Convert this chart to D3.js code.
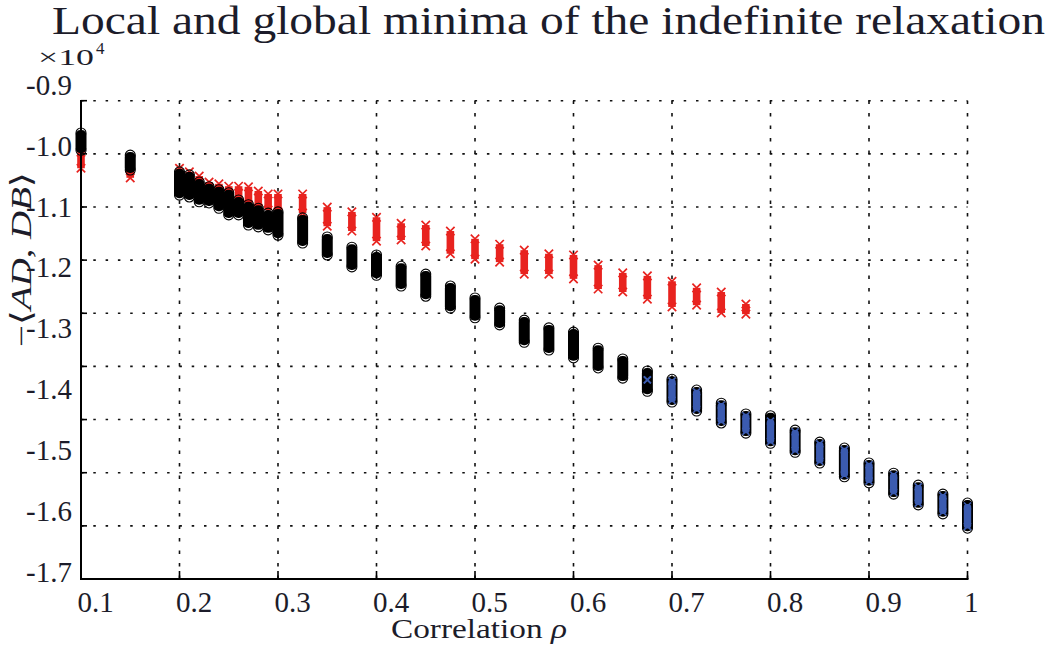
<!DOCTYPE html>
<html><head><meta charset="utf-8">
<script src="https://cdn.jsdelivr.net/npm/d3@7/dist/d3.min.js"></script>
<style>body{margin:0;background:#fff}svg{display:block}</style>
</head><body><svg id="c" width="1050" height="645"></svg>
<script>
// correlation values (x positions of the columns)
const rho = [0.1,0.15,0.2,0.21,0.22,0.23,0.24,0.25,0.26,0.27,0.28,0.29,0.3,0.325,0.35,0.375,0.4,0.425,0.45,0.475,0.5,0.525,0.55,0.575,0.6,0.625,0.65,0.675,0.7,0.725,0.75,0.775,0.8,0.825,0.85,0.875,0.9,0.925,0.95,0.975,1.0];
// black circles: extent of the cloud (x10^4)
const blackTop = [-0.954,-0.991,-1.019,-1.024,-1.036,-1.044,-1.049,-1.054,-1.066,-1.074,-1.080,-1.088,-1.086,-1.096,-1.128,-1.145,-1.158,-1.177,-1.190,-1.210,-1.230,-1.247,-1.267,-1.280,-1.287,-1.314,-1.332,-1.352,-1.366,-1.384,-1.406,-1.424,-1.427,-1.451,-1.471,-1.481,-1.506,-1.523,-1.543,-1.558,-1.573];
const blackBottom = [-0.983,-1.016,-1.058,-1.061,-1.069,-1.071,-1.080,-1.091,-1.091,-1.108,-1.111,-1.116,-1.125,-1.138,-1.158,-1.178,-1.192,-1.210,-1.227,-1.247,-1.263,-1.275,-1.304,-1.317,-1.330,-1.347,-1.364,-1.386,-1.404,-1.419,-1.439,-1.456,-1.473,-1.488,-1.506,-1.529,-1.539,-1.558,-1.576,-1.591,-1.615];
// red crosses (rho 0.1 .. 0.775)
const redRho = [0.1,0.15,0.2,0.21,0.22,0.23,0.24,0.25,0.26,0.27,0.28,0.29,0.3,0.325,0.35,0.375,0.4,0.425,0.45,0.475,0.5,0.525,0.55,0.575,0.6,0.625,0.65,0.675,0.7,0.725,0.75,0.775];
const redTop = [-0.986,-1.014,-1.013,-1.019,-1.026,-1.036,-1.039,-1.043,-1.043,-1.044,-1.051,-1.056,-1.056,-1.056,-1.078,-1.086,-1.095,-1.105,-1.108,-1.118,-1.131,-1.140,-1.150,-1.156,-1.158,-1.175,-1.188,-1.193,-1.202,-1.213,-1.220,-1.240];
const redBottom = [-1.013,-1.029,-1.041,-1.046,-1.049,-1.058,-1.063,-1.066,-1.071,-1.074,-1.080,-1.083,-1.086,-1.088,-1.110,-1.118,-1.135,-1.133,-1.143,-1.156,-1.165,-1.170,-1.190,-1.190,-1.198,-1.215,-1.220,-1.232,-1.245,-1.242,-1.255,-1.257];
// blue crosses (rho 0.675 .. 1)
const blueRho = [0.675,0.7,0.725,0.75,0.775,0.8,0.825,0.85,0.875,0.9,0.925,0.95,0.975,1.0];
const blueTop = [-1.367,-1.369,-1.387,-1.409,-1.427,-1.436,-1.454,-1.474,-1.484,-1.509,-1.526,-1.546,-1.561,-1.578];
const blueBottom = [-1.367,-1.401,-1.416,-1.436,-1.453,-1.470,-1.485,-1.503,-1.526,-1.536,-1.555,-1.573,-1.588,-1.612];
// axis ticks
const xTicks = [0.1,0.2,0.3,0.4,0.5,0.6,0.7,0.8,0.9,1];
const xTickLabels = ["0.1","0.2","0.3","0.4","0.5","0.6","0.7","0.8","0.9","1"];
const yTicks = [-0.9,-1.0,-1.1,-1.2,-1.3,-1.4,-1.5,-1.6,-1.7];
const yTickLabels = ["-0.9","-1.0","-1.1","-1.2","-1.3","-1.4","-1.5","-1.6","-1.7"];

const svg = d3.select("#c");
const FONT = "'Liberation Serif','DejaVu Serif',serif";
const TXT = "#1c1c2a";
const RED = "#e8231f", BLUE = "#3b5bb0";
const L = 81, R = 967.5, T = 100.7, B = 579;
const x = d3.scaleLinear().domain([0.1, 1]).range([L, R]);
const y = d3.scaleLinear().domain([-0.9, -1.7]).range([T, B]);
const yLab = d3.scaleLinear().domain([-0.9, -1.7]).range([85, 572]);

// grid
const gridY = d3.range(10).map(i => T + i * (B - T) / 9);
svg.append("g").selectAll("line").data(gridY.slice(0, 9)).join("line")
  .attr("x1", L).attr("x2", R).attr("y1", d => d).attr("y2", d => d)
  .attr("stroke", "#111").attr("stroke-width", 1.6).attr("stroke-dasharray", "2.5,9.8");
svg.append("g").selectAll("line").data(xTicks.slice(1)).join("line")
  .attr("x1", d => x(d)).attr("x2", d => x(d)).attr("y1", B).attr("y2", T)
  .attr("stroke", "#111").attr("stroke-width", 1.6).attr("stroke-dasharray", "3.5,9");

// red crosses
const red = svg.append("g");
redRho.forEach((r, i) => {
  const cx = x(r), y0 = y(redTop[i]), y1 = y(redBottom[i]);
  red.append("rect").attr("x", cx - 3.8).attr("y", y0).attr("width", 7.6).attr("height", Math.max(0, y1 - y0)).attr("fill", RED);
  [y0, y1].forEach(cy => {
    red.append("path").attr("d", `M${cx-4.2},${cy-4.2}L${cx+4.2},${cy+4.2}M${cx-4.2},${cy+4.2}L${cx+4.2},${cy-4.2}`)
      .attr("stroke", RED).attr("stroke-width", 1.7).attr("fill", "none");
  });
});

// black circles
const blk = svg.append("g");
const rad = 5;
rho.forEach((r, i) => {
  const cx = x(r), y0 = y(blackTop[i]), y1 = y(blackBottom[i]);
  blk.append("rect").attr("x", cx - rad - 0.5).attr("y", y0 - rad + 2).attr("width", 2 * rad + 1)
    .attr("height", y1 - y0 + 2 * rad - 4).attr("rx", rad).attr("fill", "#000");
  [y0, y1].forEach(cy => {
    blk.append("circle").attr("cx", cx).attr("cy", cy).attr("r", rad)
      .attr("fill", "none").attr("stroke", "#000").attr("stroke-width", 1.1);
  });
});

// blue crosses
const blu = svg.append("g");
blueRho.forEach((r, i) => {
  const cx = x(r), y0 = y(blueTop[i]), y1 = y(blueBottom[i]);
  if (y1 - y0 > 2) {
    blu.append("rect").attr("x", cx - 3.7).attr("y", y0 - 2).attr("width", 7.4).attr("height", y1 - y0 + 4)
      .attr("rx", 3).attr("fill", BLUE);
  }
  [y0, y1].forEach(cy => {
    blu.append("path").attr("d", `M${cx-3.5},${cy-3.5}L${cx+3.5},${cy+3.5}M${cx-3.5},${cy+3.5}L${cx+3.5},${cy-3.5}`)
      .attr("stroke", BLUE).attr("stroke-width", 1.6).attr("fill", "none");
  });
});

// axes lines + ticks
const ax = svg.append("g").attr("stroke", "#000");
ax.append("line").attr("x1", L).attr("x2", L).attr("y1", T - 0.8).attr("y2", B + 1).attr("stroke-width", 2);
ax.append("line").attr("x1", L - 1).attr("x2", R + 1).attr("y1", B).attr("y2", B).attr("stroke-width", 2);
ax.selectAll(".yt").data(gridY).join("line").attr("x1", L).attr("x2", L + 6).attr("y1", d => d).attr("y2", d => d).attr("stroke-width", 1.6);
ax.selectAll(".xt").data(xTicks).join("line").attr("x1", d => x(d)).attr("x2", d => x(d)).attr("y1", B).attr("y2", B - 8).attr("stroke-width", 1.6);

// y tick labels
const ya = svg.append("g").attr("transform", "translate(72,0)")
  .call(d3.axisLeft(yLab).tickValues(yTicks).tickFormat((d, i) => yTickLabels[i]).tickSize(0).tickPadding(0));
ya.select(".domain").remove();
ya.selectAll("text").attr("font-family", FONT).attr("font-size", 29).attr("fill", TXT);

// x tick labels
const xa = svg.append("g").attr("transform", `translate(0,${B})`)
  .call(d3.axisBottom(x).tickValues(xTicks).tickFormat((d, i) => xTickLabels[i]).tickSize(0).tickPadding(12));
xa.select(".domain").remove();
xa.selectAll("text").attr("font-family", FONT).attr("font-size", 29).attr("fill", TXT)
  .attr("text-anchor", "start").attr("dx", -4);

// title
svg.append("text").attr("x", 52).attr("y", 34).attr("font-family", FONT).attr("font-size", 39).attr("fill", TXT)
  .attr("textLength", 993).attr("lengthAdjust", "spacingAndGlyphs")
  .text("Local and global minima of the indefinite relaxation");

// exponent
svg.append("text").attr("x", 38).attr("y", 65).attr("font-family", FONT).attr("font-size", 24).attr("fill", TXT)
  .attr("textLength", 56).attr("lengthAdjust", "spacingAndGlyphs").text("×10");
svg.append("text").attr("x", 96).attr("y", 54).attr("font-family", FONT).attr("font-size", 17).attr("fill", TXT).text("4");

// x label
const xl = svg.append("text").attr("x", 391).attr("y", 638).attr("font-family", FONT).attr("font-size", 28).attr("fill", TXT)
  .attr("textLength", 176).attr("lengthAdjust", "spacingAndGlyphs");
xl.append("tspan").text("Correlation ");
xl.append("tspan").attr("font-style", "italic").text("ρ");

// y label
const yl = svg.append("text").attr("transform", "translate(31,347) rotate(-90)").attr("text-anchor", "start")
  .attr("font-family", FONT).attr("font-size", 29).attr("fill", TXT)
  .attr("textLength", 175).attr("lengthAdjust", "spacingAndGlyphs");
yl.append("tspan").text("−⟨");
yl.append("tspan").attr("font-style", "italic").text("AD");
yl.append("tspan").text(", ");
yl.append("tspan").attr("font-style", "italic").text("DB");
yl.append("tspan").text("⟩");
</script></body></html>
